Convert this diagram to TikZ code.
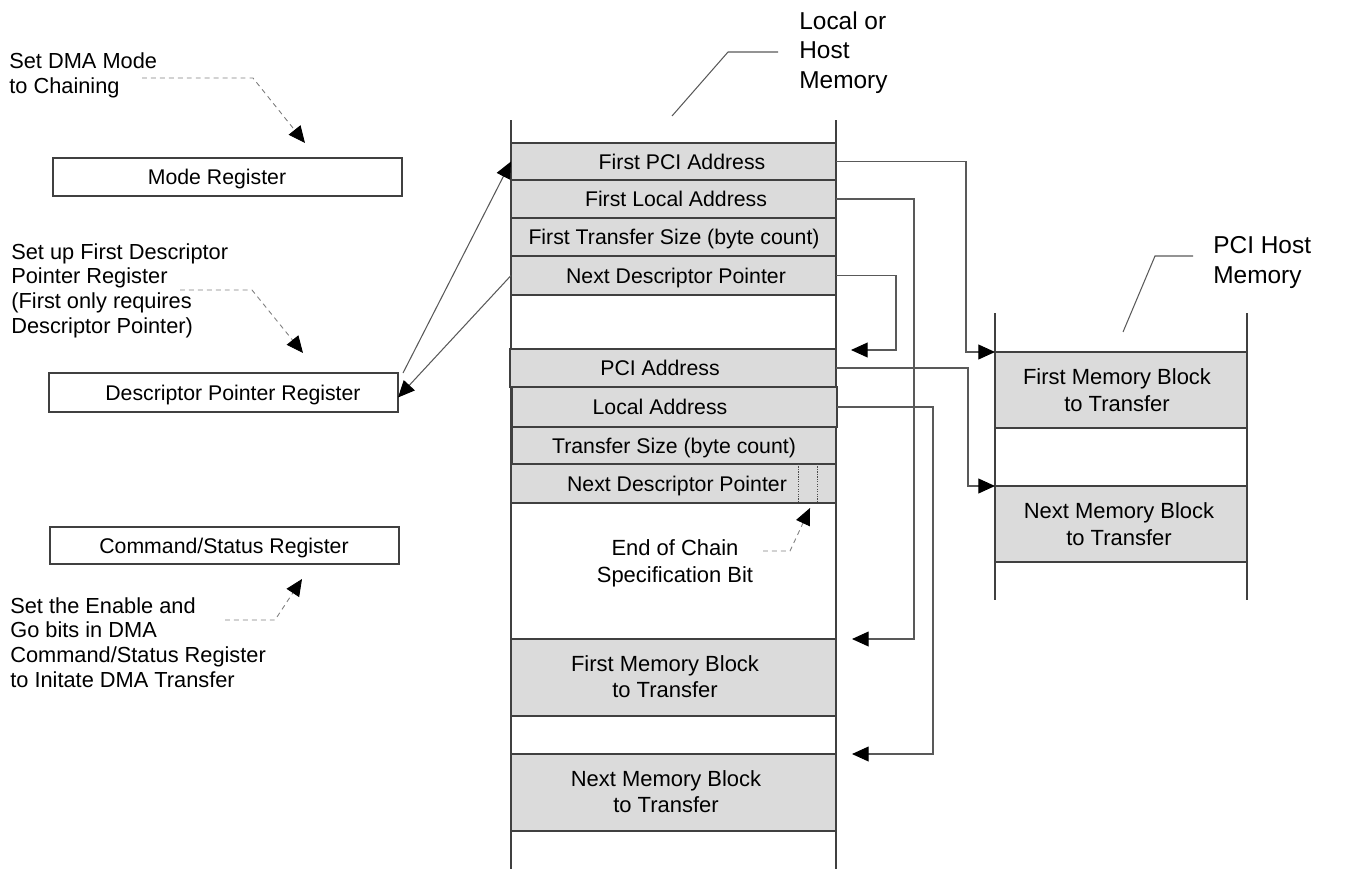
\documentclass[tikz,border=0pt]{standalone}
\usepackage{fontspec}
\setmainfont{Liberation Sans}
\usetikzlibrary{arrows.meta,fit}
\begin{document}
\begin{tikzpicture}[x=0.02cm,y=-0.02cm,
  box/.style={draw=black!75, line width=0.6pt, inner sep=0pt, outer sep=0pt},
  cell/.style={box, fill=black!14},
  small/.style={font=\fontsize{12.1pt}{14pt}\selectfont, inner sep=0pt, anchor=base},
  big/.style={font=\fontsize{12.5pt}{15pt}\selectfont, inner sep=0pt, anchor=base, align=center},
  lbl/.style={font=\fontsize{13.9pt}{16.7pt}\selectfont, inner sep=0pt, anchor=base west, align=left},
  note/.style={font=\fontsize{12.4pt}{14pt}\selectfont, inner sep=0pt, anchor=base west, align=left},
  conn/.style={draw=black!65, line width=0.6pt},
  tip/.style={-{Triangle[length=9.5pt,width=8.5pt,color=black]}},
  ann/.style={draw=black!50, line width=0.5pt, dash pattern=on 2.8pt off 2.3pt},
  col/.style={draw=black!75, line width=0.6pt},
  sep/.style={draw=black!70, line width=0.45pt, dash pattern=on 0.7pt off 0.7pt}
]
\useasboundingbox (0,0) rectangle (1365,869);

% ---------- left registers ----------
\node[box, fit={(53,158) (402,196)}] (mode) {};
\node[small] (modet) at (217,184.5) {Mode Register};
\node[box, fit={(49,373) (398,412)}] (dpr) {};
\node[small] (dprt) at (233,400) {Descriptor Pointer Register};
\node[box, fit={(50,527) (399,564)}] (csr) {};
\node[small] (csrt) at (224,553) {Command/Status Register};

% ---------- notes (anchor = baseline of last line) ----------
\node[note] (n1) at (9,93) {Set DMA Mode\\to Chaining};
\node[note] (n2) at (11,333) {Set up First Descriptor\\Pointer Register\\(First only requires\\Descriptor Pointer)};
\node[note] (n3) at (10,687) {Set the Enable and\\Go bits in DMA\\Command/Status Register\\to Initate DMA Transfer};

% ---------- local or host memory column ----------
\draw[col] (511,120) -- (511,869) (836,120) -- (836,869);
\node[lbl] (lhm) at (799,88) {Local or\\Host\\Memory};
\draw[conn] (672,116) -- (728,52) -- (778,52);

\node[cell, fit={(511,143) (836,180)}] (r1) {};
\node[cell, fit={(511,180) (836,218)}] (r2) {};
\node[cell, fit={(511,218) (836,256)}] (r3) {};
\node[cell, fit={(511,256) (836,295)}] (r4) {};
\node[small] (r1t) at (682,169) {First PCI Address};
\node[small] (r2t) at (676,206.5) {First Local Address};
\node[small] (r3t) at (674,244.5) {First Transfer Size (byte count)};
\node[small] (r4t) at (676,283) {Next Descriptor Pointer};

\node[cell, fit={(510,349) (836,387)}] (r5) {};
\node[cell, fit={(512,387) (837,427)}] (r6) {};
\node[cell, fit={(512,427) (836,464)}] (r7) {};
\node[cell, fit={(511,464) (836,503)}] (r8) {};
\draw[sep] (798,464) -- (798,503) (817,464) -- (817,503);
\node[small] (r5t) at (660,375.5) {PCI Address};
\node[small] (r6t) at (660,414.5) {Local Address};
\node[small] (r7t) at (674,453) {Transfer Size (byte count)};
\node[small] (r8t) at (677,491) {Next Descriptor Pointer};

\node[cell, fit={(511,639) (836,716)}] (m1) {};
\node[big] (m1t) at (665,697.5) {First Memory Block\\to Transfer};
\node[cell, fit={(511,754) (836,831)}] (m2) {};
\node[big] (m2t) at (666,812.5) {Next Memory Block\\to Transfer};

\node[big] (eoc) at (675,582) {End of Chain\\Specification Bit};

% ---------- PCI host memory column ----------
\draw[col] (995,313) -- (995,600) (1247,313) -- (1247,600);
\node[lbl] (phm) at (1213,283) {PCI Host\\Memory};
\draw[conn] (1123,332) -- (1155,256) -- (1193,256);
\node[cell, fit={(995,352) (1247,428)}] (h1) {};
\node[big] (h1t) at (1117,411) {First Memory Block\\to Transfer};
\node[cell, fit={(995,486) (1247,562)}] (h2) {};
\node[big] (h2t) at (1119,545) {Next Memory Block\\to Transfer};

% ---------- target coordinates ----------
\coordinate (a1) at (851,350);
\coordinate (a2) at (852,639);
\coordinate (a4) at (852,754);
\coordinate (k1) at (305,143);
\coordinate (k2) at (303,353);
\coordinate (k3) at (302,579);
\coordinate (k4) at (810,508);

% ---------- connectors ----------
\draw[conn, tip] ([xshift=0.1cm]dpr.north east) -- (r1.west);
\draw[conn, tip] (r4.west) -- ([yshift=-0.1cm]dpr.east);
\draw[conn, tip] (r4.east) -| (896,350) -- (a1);
\draw[conn, tip] (r1.east) -| (966,352) -- (h1.north west);
\draw[conn, tip] (r2.east) -| (914,639) -- (a2);
\draw[conn, tip] (r5.east) -| (968,486) -- (h2.north west);
\draw[conn, tip] (r6.east) -| (933,754) -- (a4);

% ---------- dashed annotation arrows ----------
\draw[ann, tip] (142,78) -- (253,78) -- (k1);
\draw[ann, tip] (180,290) -- (252,290) -- (k2);
\draw[ann, tip] (225,620) -- (275,620) -- (k3);
\draw[ann, tip] (763,551) -- (790,551) -- (k4);
\end{tikzpicture}
\end{document}
